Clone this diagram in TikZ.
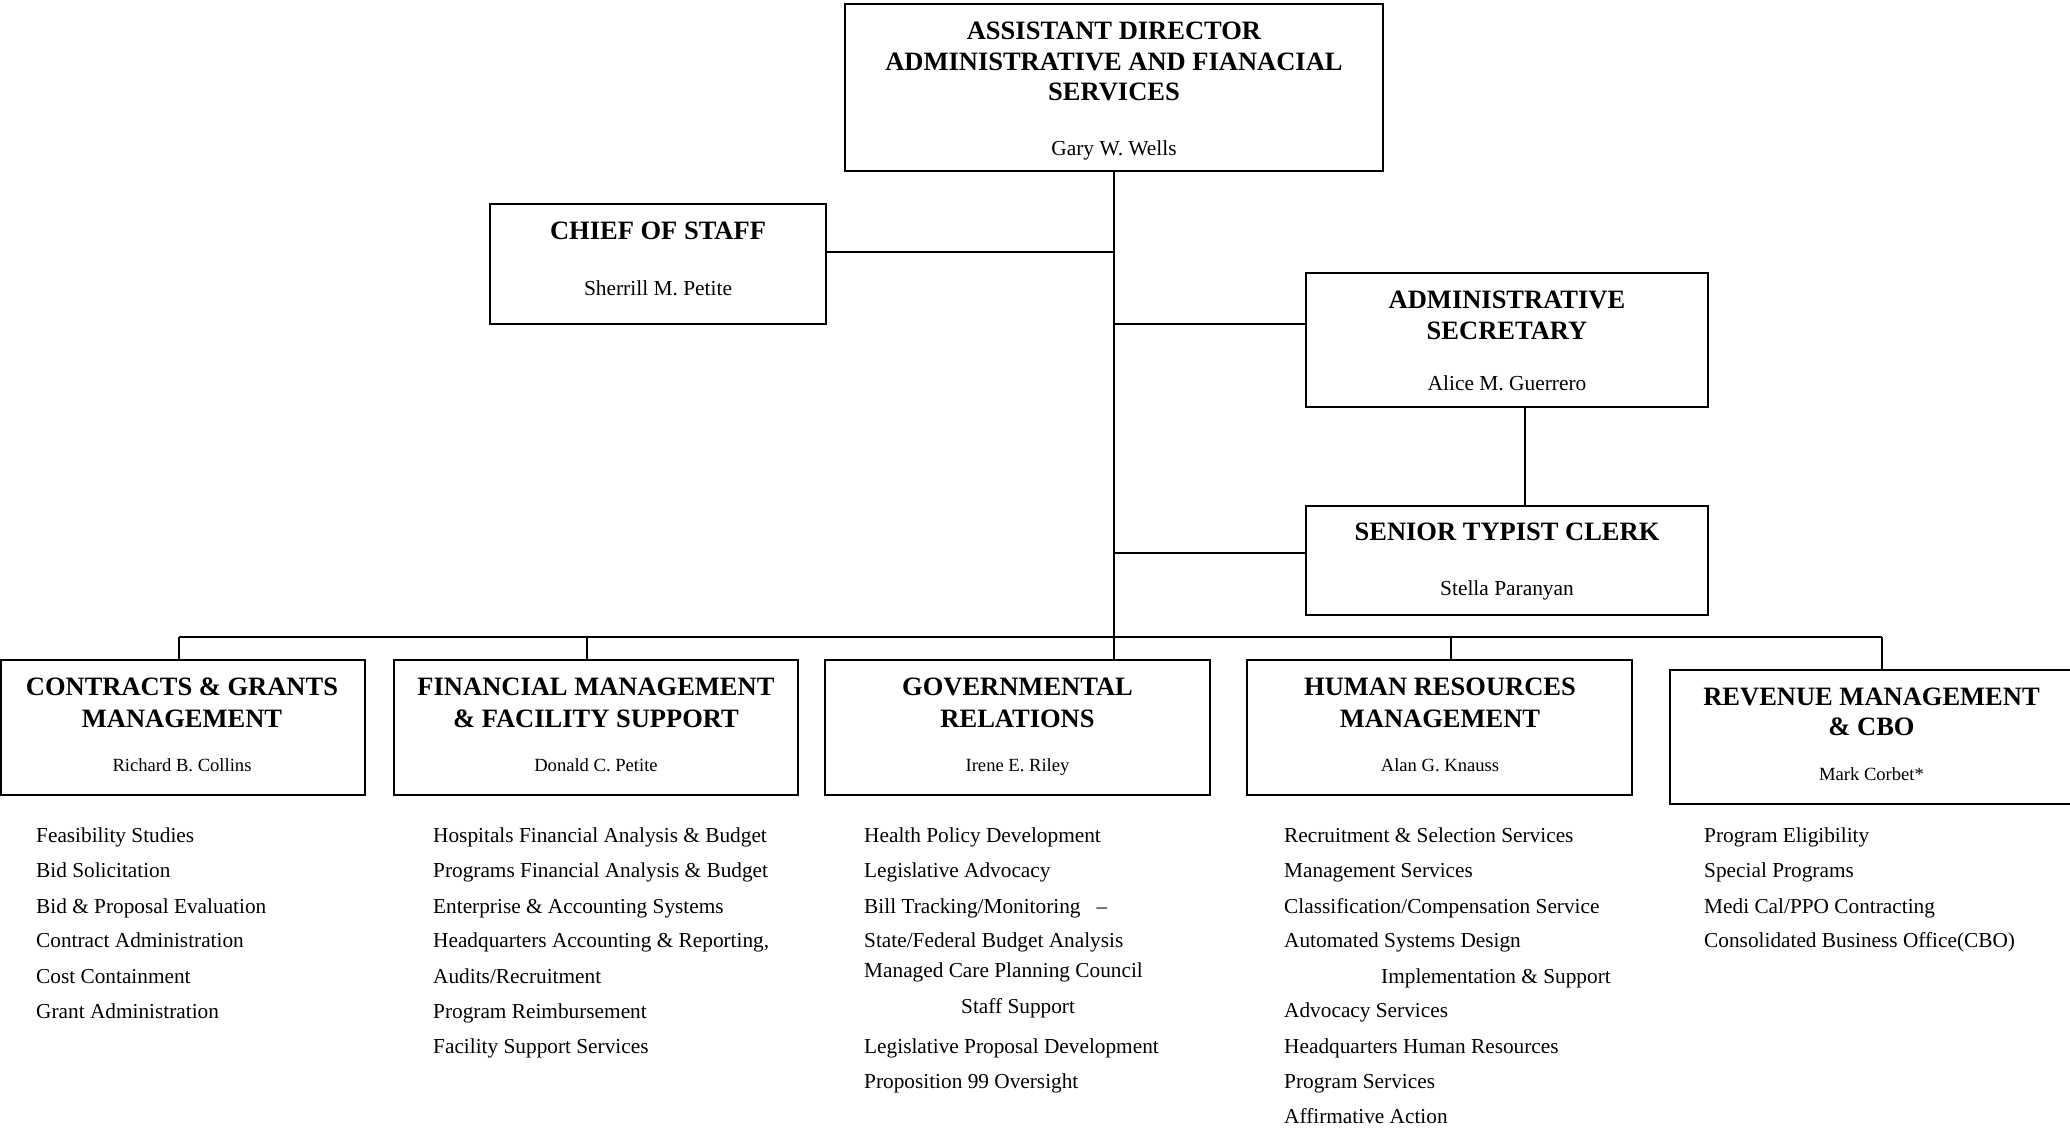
\documentclass[tikz,border=0pt]{standalone}
\usepackage{fontspec}
\setmainfont{Liberation Serif}
\begin{document}
\begin{tikzpicture}[x=1pt,y=-1pt,
  orgbox/.style={draw, line width=2pt, inner sep=0pt},
  conn/.style={line width=2pt},
  ttl/.style={font=\bfseries\fontsize{26.5}{30}\selectfont, anchor=base, inner sep=0pt},
  nmU/.style={font=\fontsize{21.4}{24}\selectfont, anchor=base, inner sep=0pt},
  nmL/.style={font=\fontsize{18.6}{22}\selectfont, anchor=base, inner sep=0pt},
  itm/.style={font=\fontsize{21.3}{24}\selectfont, anchor=base west, inner sep=0pt}]
\useasboundingbox (0,0) rectangle (2070,1129);

% boxes
\node[orgbox, minimum width=538pt, minimum height=167pt] (top) at (1114,87.5) {};
\node[orgbox, minimum width=336pt, minimum height=120pt] (cos) at (658,264) {};
\node[orgbox, minimum width=402pt, minimum height=134pt] (sec) at (1507,340) {};
\node[orgbox, minimum width=402pt, minimum height=109pt] (typ) at (1507,560.5) {};
\node[orgbox, minimum width=364pt, minimum height=135pt] (c1) at (183,727.5) {};
\node[orgbox, minimum width=404pt, minimum height=135pt] (c2) at (596,727.5) {};
\node[orgbox, minimum width=385pt, minimum height=135pt] (c3) at (1017.5,727.5) {};
\node[orgbox, minimum width=385pt, minimum height=135pt] (c4) at (1439.5,727.5) {};
\node[orgbox, minimum width=402pt, minimum height=134pt] (c5) at (1871,737) {};

% box texts
\node[ttl] (topt1) at (1114,40) {ASSISTANT DIRECTOR};
\node[ttl] (topt2) at (1114,71) {ADMINISTRATIVE AND FIANACIAL};
\node[ttl] (topt3) at (1114,101) {SERVICES};
\node[nmU] (topn) at (1114,156) {Gary W. Wells};

\node[ttl] (cost1) at (658,239) {CHIEF OF STAFF};
\node[nmU] (cosn) at (658,295) {Sherrill M. Petite};

\node[ttl] (sect1) at (1507,308) {ADMINISTRATIVE};
\node[ttl] (sect2) at (1507,339) {SECRETARY};
\node[nmU] (secn) at (1507,390) {Alice M. Guerrero};

\node[ttl] (typt1) at (1507,540) {SENIOR TYPIST CLERK};
\node[nmU] (typn) at (1507,595) {Stella Paranyan};

\node[ttl] (c1t1) at (182,695) {CONTRACTS \& GRANTS};
\node[ttl] (c1t2) at (182,727) {MANAGEMENT};
\node[nmL] (c1n) at (182,771) {Richard B. Collins};

\node[ttl] (c2t1) at (596,695) {FINANCIAL MANAGEMENT};
\node[ttl] (c2t2) at (596,727) {\& FACILITY SUPPORT};
\node[nmL] (c2n) at (596,771) {Donald C. Petite};

\node[ttl] (c3t1) at (1017.5,695) {GOVERNMENTAL};
\node[ttl] (c3t2) at (1017.5,727) {RELATIONS};
\node[nmL] (c3n) at (1017.5,771) {Irene E. Riley};

\node[ttl] (c4t1) at (1440,695) {HUMAN RESOURCES};
\node[ttl] (c4t2) at (1440,727) {MANAGEMENT};
\node[nmL] (c4n) at (1440,771) {Alan G. Knauss};

\node[ttl] (c5t1) at (1871.5,705) {REVENUE MANAGEMENT};
\node[ttl] (c5t2) at (1871.5,735) {\& CBO};
\node[nmL] (c5n) at (1871.5,780) {Mark Corbet*};

% connectors
\coordinate (jcos) at (1114,252);
\coordinate (jsec) at (1114,324);
\coordinate (jtyp) at (1114,553);
\coordinate (b1) at (179,637);
\coordinate (b2) at (587,637);
\coordinate (b3) at (1114,637);
\coordinate (b4) at (1450.5,637);
\coordinate (b5) at (1882,637);
\draw[conn] (top.south) -- (top.south |- c3.north);
\draw[conn] (jcos) -- (jcos -| cos.east);
\draw[conn] (jsec) -- (jsec -| sec.west);
\draw[conn] (jtyp) -- (jtyp -| typ.west);
\draw[conn] ([xshift=17.5pt]sec.south) -- ([xshift=17.5pt]sec.south |- typ.north);
\draw[conn] (b1) -- (b5);
\draw[conn] (b1) -- (b1 |- c1.north);
\draw[conn] (b2) -- (b2 |- c2.north);
\draw[conn] (b4) -- (b4 |- c4.north);
\draw[conn] (b5) -- (b5 |- c5.north);

% lists
\node[itm] (l11) at (36,842) {Feasibility Studies};
\node[itm] (l12) at (36,877) {Bid Solicitation};
\node[itm] (l13) at (36,913) {Bid \& Proposal Evaluation};
\node[itm] (l14) at (36,947) {Contract Administration};
\node[itm] (l15) at (36,983) {Cost Containment};
\node[itm] (l16) at (36,1018) {Grant Administration};

\node[itm] (l21) at (433,842) {Hospitals Financial Analysis \& Budget};
\node[itm] (l22) at (433,877) {Programs Financial Analysis \& Budget};
\node[itm] (l23) at (433,913) {Enterprise \& Accounting Systems};
\node[itm] (l24) at (433,947) {Headquarters Accounting \& Reporting,};
\node[itm] (l25) at (433,983) {Audits/Recruitment};
\node[itm] (l26) at (433,1018) {Program Reimbursement};
\node[itm] (l27) at (433,1053) {Facility Support Services};

\node[itm] (l31) at (864,842) {Health Policy Development};
\node[itm] (l32) at (864,877) {Legislative Advocacy};
\node[itm] (l33) at (864,913) {Bill Tracking/Monitoring\hspace{16pt}–};
\node[itm] (l34) at (864,947) {State/Federal Budget Analysis};
\node[itm] (l35) at (864,977) {Managed Care Planning Council};
\node[itm] (l36) at (961,1013) {Staff Support};
\node[itm] (l37) at (864,1053) {Legislative Proposal Development};
\node[itm] (l38) at (864,1088) {Proposition 99 Oversight};

\node[itm] (l41) at (1284,842) {Recruitment \& Selection Services};
\node[itm] (l42) at (1284,877) {Management Services};
\node[itm] (l43) at (1284,913) {Classification/Compensation Service};
\node[itm] (l44) at (1284,947) {Automated Systems Design};
\node[itm] (l45) at (1381,983) {Implementation \& Support};
\node[itm] (l46) at (1284,1017) {Advocacy Services};
\node[itm] (l47) at (1284,1053) {Headquarters Human Resources};
\node[itm] (l48) at (1284,1088) {Program Services};
\node[itm] (l49) at (1284,1123) {Affirmative Action};

\node[itm] (l51) at (1704,842) {Program Eligibility};
\node[itm] (l52) at (1704,877) {Special Programs};
\node[itm] (l53) at (1704,913) {Medi Cal/PPO Contracting};
\node[itm] (l54) at (1704,947) {Consolidated Business Office(CBO)};
\end{tikzpicture}
\end{document}
